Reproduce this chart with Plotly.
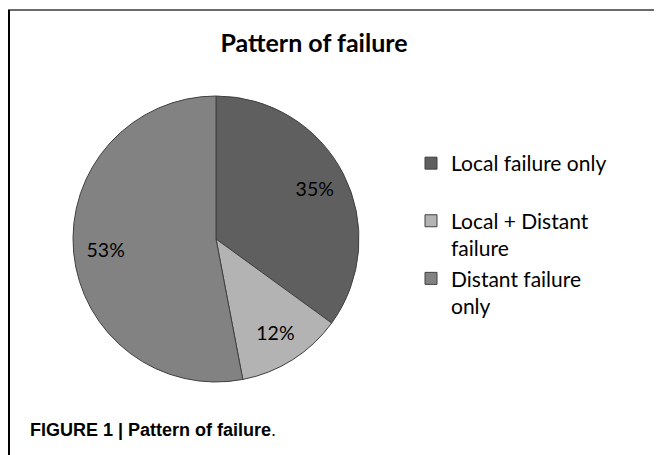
import plotly.graph_objects as go

categories = ["Local failure only<br> ", "Local + Distant<br>failure", "Distant failure<br>only"]
values = [35, 12, 53]
colors = ["#5f5f5f", "#b3b3b3", "#828282"]

# page has an 8px body margin; figure fills the remaining window
W, H = 654, 447
OFF = 8


def px(x):
    return (x - OFF) / W


def py(y):
    return 1 - (y - OFF) / H


cx, cy, r = 216, 239, 143
dom = dict(x=[px(cx - r), px(cx + r)], y=[py(cy + r), py(cy - r)])

fig = go.Figure()
fig.add_trace(go.Pie(
    labels=categories,
    values=values,
    sort=False,
    direction="clockwise",
    rotation=0,
    marker=dict(colors=colors, line=dict(color="#404040", width=1)),
    textinfo="none",
    domain=dom,
    hoverinfo="label+percent",
))
# label layer (same data) so the percentages sit out toward the rim
fig.add_trace(go.Pie(
    labels=categories,
    values=values,
    sort=False,
    direction="clockwise",
    rotation=0,
    hole=0.55,
    marker=dict(colors=["rgba(0,0,0,0)"] * 3, line=dict(width=0)),
    textinfo="percent",
    textposition="inside",
    insidetextorientation="horizontal",
    insidetextfont=dict(color="black", size=19.5, family="Lato"),
    domain=dom,
    showlegend=False,
    hoverinfo="skip",
))

fig.update_layout(
    width=W, height=H,
    margin=dict(l=0, r=0, t=0, b=0),
    paper_bgcolor="white",
    plot_bgcolor="white",
    title=dict(text="<b>Pattern of failure</b>", x=px(314), xanchor="center",
               y=py(43), yanchor="middle",
               font=dict(family="Lato", size=25, color="black")),
    legend=dict(x=px(411), xanchor="left", y=py(143), yanchor="top",
                valign="top",
                font=dict(family="Lato", size=21, color="black"),
                bgcolor="rgba(0,0,0,0)"),
    showlegend=True,
)

fig.add_shape(type="line", xref="paper", yref="paper", x0=px(8), x1=1, y0=py(10), y1=py(10),
              line=dict(color="#3a3a3a", width=1.5))
fig.add_shape(type="line", xref="paper", yref="paper", x0=1.0 / W, x1=1.0 / W, y0=0, y1=py(10),
              line=dict(color="black", width=2))

fig.add_annotation(text="<b>FIGURE 1 | Pattern of failure</b>.", xref="paper", yref="paper",
                   x=px(28), xanchor="left", y=py(430), yanchor="middle", showarrow=False,
                   font=dict(family="Liberation Sans", size=18, color="black"))

fig.write_html("out.html")
